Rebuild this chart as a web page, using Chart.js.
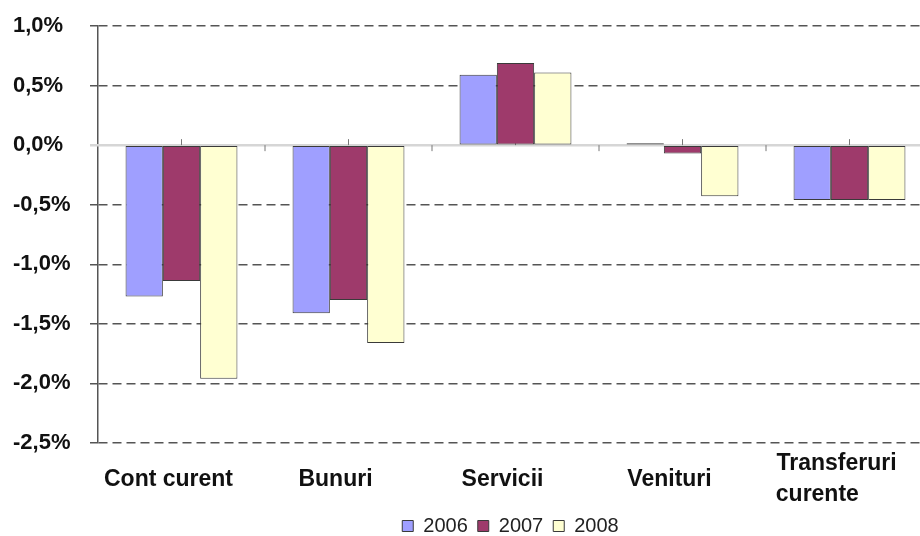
<!DOCTYPE html>
<html>
<head>
<meta charset="utf-8">
<script src="https://cdn.jsdelivr.net/npm/chart.js@4"></script>
<style>
  html, body { margin: 0; padding: 0; background: #fff; overflow: hidden; }
  #wrap { width: 920px; height: 536px; overflow: hidden; }
</style>
</head>
<body>
<!-- graficul original iese putin din imagine in dreapta -->
<div id="wrap"><canvas id="chart" width="933" height="536"></canvas></div>
<script>
// "curente" e aliniat la stanga sub "Transferuri" in original
const categories = ['Cont curent', 'Bunuri', 'Servicii', 'Venituri', ['Transferuri', 'curente\u00a0\u00a0\u00a0\u00a0\u00a0\u00a0']];
const years = ['2006', '2007', '2008'];
const values2006 = [-1.27, -1.41, 0.59, 0.015, -0.46];
const values2007 = [-1.14, -1.30, 0.69, -0.07, -0.46];
const values2008 = [-1.96, -1.66, 0.61, -0.43, -0.46];
const colors = ['#9f9fff', '#9e3a6b', '#ffffd2'];

// linia de zero (gri deschis) + semnele mici de pe ea
const zeroLine = {
  id: 'zeroLine',
  beforeDatasetsDraw(chart) {
    const { ctx, chartArea, scales } = chart;
    const y0 = scales.y.getPixelForValue(0);
    ctx.save();
    ctx.strokeStyle = '#d6d6d6';
    ctx.lineWidth = 2.5;
    ctx.beginPath();
    ctx.moveTo(chartArea.left - 8, y0);
    ctx.lineTo(chartArea.right, y0);
    ctx.stroke();
    ctx.strokeStyle = '#777';
    ctx.lineWidth = 1;
    const n = categories.length;
    for (let i = 0; i < n; i++) {
      const xc = scales.x.getPixelForValue(i);
      ctx.beginPath();
      ctx.moveTo(xc, y0 - 6);
      ctx.lineTo(xc, y0);
      ctx.stroke();
      if (i < n - 1) {
        const xb = (xc + scales.x.getPixelForValue(i + 1)) / 2;
        ctx.beginPath();
        ctx.moveTo(xb, y0);
        ctx.lineTo(xb, y0 + 6);
        ctx.stroke();
      }
    }
    ctx.restore();
  }
};

// legenda: putin mai jos, centrata pe zona graficului
const LEGEND_TOP = 506;
const legendShift = {
  id: 'legendShift',
  beforeDraw(chart) {
    const lg = chart.legend;
    const mid = (chart.chartArea.left + chart.chartArea.right) / 2 - 5;
    const dx = mid - (lg.left + lg.right) / 2;
    const dy = LEGEND_TOP - lg.top;
    lg.left += dx;
    lg.right += dx;
    lg.top += dy;
    lg.bottom += dy;
    lg.legendHitBoxes.forEach((b) => { b.left += dx; b.top += dy; });
  }
};

const makeSet = (label, data, color) => ({
  label,
  data,
  backgroundColor: color,
  borderColor: '#3a3a3a',
  borderWidth: 1,
  borderSkipped: false,
  categoryPercentage: 0.67,
  barPercentage: 1.0
});

new Chart(document.getElementById('chart'), {
  type: 'bar',
  data: {
    labels: categories,
    datasets: [
      makeSet(years[0], values2006, colors[0]),
      makeSet(years[1], values2007, colors[1]),
      makeSet(years[2], values2008, colors[2])
    ]
  },
  options: {
    responsive: false,
    animation: false,
    layout: { padding: { top: 26, right: 0, left: 13, bottom: 0 } },
    plugins: {
      tooltip: { enabled: false },
      legend: {
        position: 'bottom',
        labels: {
          boxWidth: 11,
          boxHeight: 11,
          padding: 10,
          color: '#222',
          font: { family: 'Liberation Sans, Arial', size: 20 }
        }
      }
    },
    scales: {
      x: {
        grid: { display: false },
        border: { display: false },
        ticks: {
          color: '#111',
          padding: 13,
          labelOffset: -13,
          maxRotation: 0,
          autoSkip: false,
          crossAlign: 'center',
          font: { family: 'Liberation Sans, Arial', size: 23, weight: 'bold', lineHeight: 1.35 }
        },
        afterFit(scale) {
          scale.height = 53;
          // a doua linie din "Transferuri curente" iese din cutia axei
          scale._computeLabelArea = () => null;
        }
      },
      y: {
        min: -2.5,
        max: 1.0,
        ticks: {
          stepSize: 0.5,
          color: '#111',
          crossAlign: 'far',
          font: { family: 'Liberation Sans, Arial', size: 22, weight: 'bold' },
          callback: (v) => v.toFixed(1).replace('.', ',') + '%'
        },
        grid: {
          color: '#555',
          lineWidth: 1.5,
          tickLength: 8
        },
        border: { display: true, color: '#555', width: 1.5, dash: [9, 5] },
        afterFit(scale) { scale.width = 85; }
      }
    }
  },
  plugins: [zeroLine, legendShift]
});
</script>
</body>
</html>
